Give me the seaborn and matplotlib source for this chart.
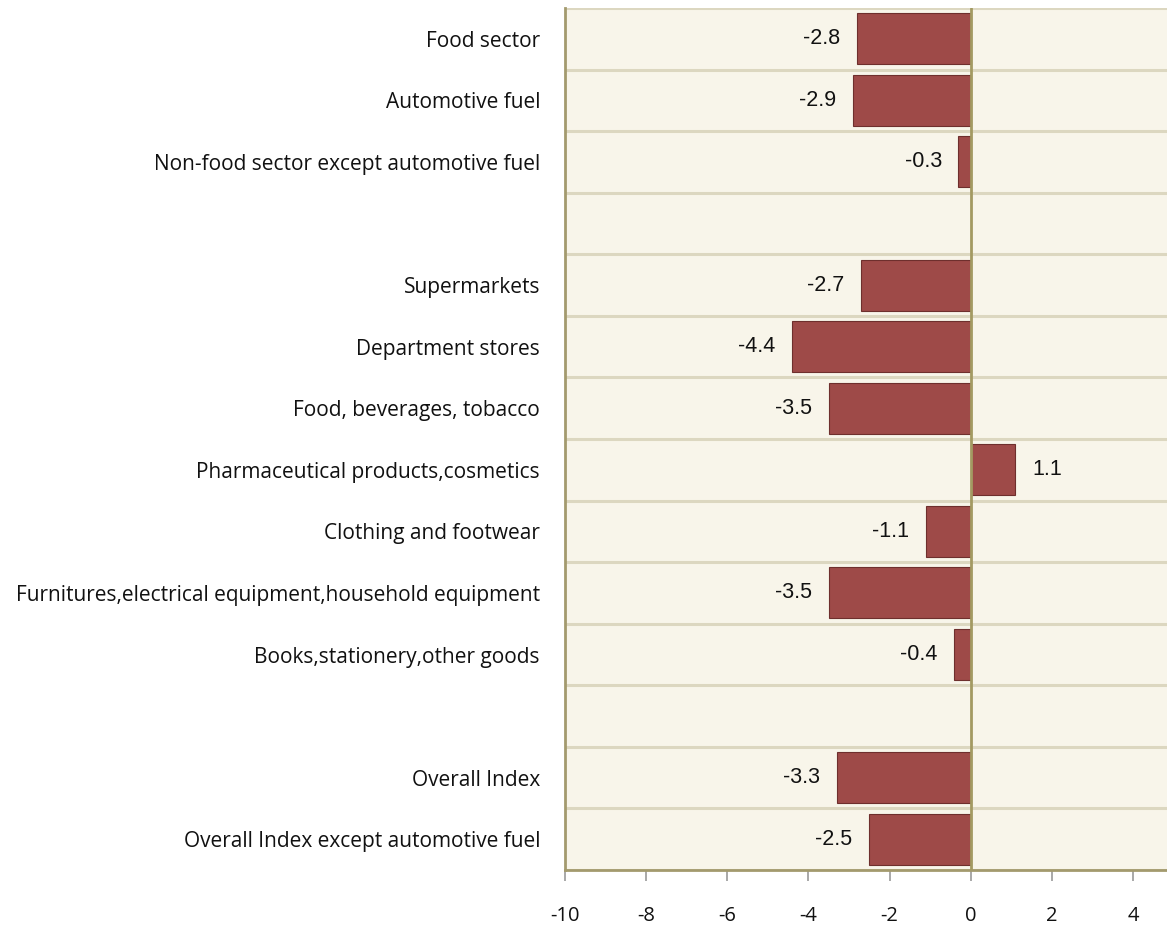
import numpy as np
import pandas as pd
import seaborn as sns
import matplotlib.pyplot as plt

categories = ["Food sector", "Automotive fuel", "Non-food sector except automotive fuel", " ",
              "Supermarkets", "Department stores", "Food, beverages, tobacco",
              "Pharmaceutical products,cosmetics", "Clothing and footwear",
              "Furnitures,electrical equipment,household equipment",
              "Books,stationery,other goods", "  ",
              "Overall Index", "Overall Index except automotive fuel"]
values = [-2.8, -2.9, -0.3, np.nan, -2.7, -4.4, -3.5, 1.1, -1.1, -3.5, -0.4, np.nan, -3.3, -2.5]
xticks = [-10, -8, -6, -4, -2, 0, 2, 4]

df = pd.DataFrame({"cat": categories, "val": values})

sns.set_style("white")
plt.rcParams['font.family'] = ['Open Sans', 'DejaVu Sans']

fig = plt.figure(figsize=(11.67, 9.25), dpi=100)
ax = fig.add_axes([565 / 1167, 1 - 870 / 925, 1 - 565 / 1167, (870 - 8) / 925])
ax.set_facecolor("#F8F5EA")

sns.barplot(data=df, x="val", y="cat", order=categories, orient="h", color="#9E4A48",
            saturation=1, width=0.83, edgecolor="#6E2F2D", linewidth=0.8, ax=ax, zorder=3)

ax.set_xlim(-10, 4.84)
ax.set_ylim(len(categories) - 0.5, -0.5)

# row separators
for b in np.arange(-0.5, len(categories), 1.0):
    ax.axhline(b, color="#DCD7C0", lw=2.2, zorder=1)
ax.axvline(0, color="#A39A62", lw=2, zorder=4)

# value labels
for i, v in enumerate(values):
    if np.isnan(v):
        continue
    off = -12 if v < 0 else 12
    ha = "right" if v < 0 else "left"
    ax.annotate(f"{v:.1f}", (v, i), xytext=(off, 0), textcoords="offset points",
                ha=ha, va="center", fontsize=15.5,
                family=["Liberation Sans", "DejaVu Sans"], color="#111111")

for s in ["top", "right"]:
    ax.spines[s].set_visible(False)
ax.spines["left"].set_color("#A39A6E")
ax.spines["left"].set_linewidth(2)
ax.spines["bottom"].set_color("#A39A6E")
ax.spines["bottom"].set_linewidth(2)

ax.set_xticks(xticks)
ax.set_xticklabels([str(t) for t in xticks])
ax.tick_params(axis="x", direction="out", length=8, width=1.2, color="#999999",
               pad=18, labelsize=14.5, labelcolor="#111111", bottom=True)
ax.tick_params(axis="y", length=0, pad=18, labelsize=15, labelcolor="#111111")
ax.set_xlabel("")
ax.set_ylabel("")

fig.savefig("out.png", dpi=100)
